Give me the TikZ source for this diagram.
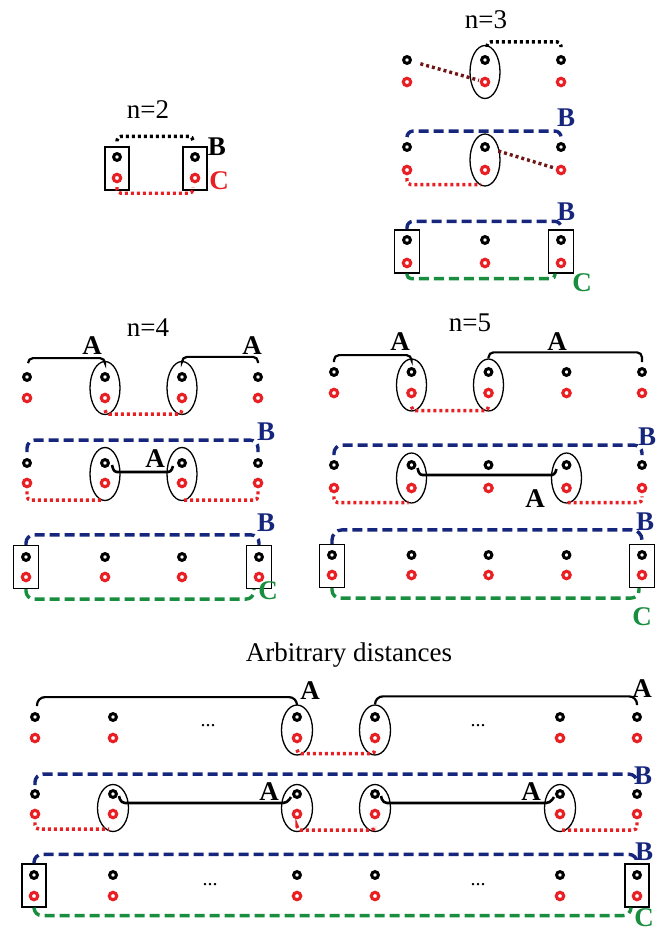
\documentclass[tikz,border=0pt]{standalone}
\usepackage{fontspec}
\setmainfont{Liberation Serif}
\usetikzlibrary{shapes.geometric,calc}
\definecolor{ringred}{RGB}{232,32,36}
\definecolor{navy}{RGB}{22,38,125}
\definecolor{grn}{RGB}{24,142,62}
\definecolor{maroon}{RGB}{112,22,22}

\tikzset{
  bring/.style={circle,draw=black,line width=3pt,minimum size=6.8pt,inner sep=0pt},
  rring/.style={circle,draw=ringred,line width=3.1pt,minimum size=7.4pt,inner sep=0pt},
  ov/.style={ellipse,draw,line width=1.3pt,inner sep=0pt,minimum width=30pt,minimum height=53pt},
  bx/.style={draw,line width=1.2pt,minimum width=25pt,minimum height=43pt,inner sep=0pt},
  dotline/.style={line width=3.4pt,dash pattern=on 3pt off 3pt,rounded corners=4pt},
  bdot/.style={dotline,black},
  rdot/.style={dotline,ringred},
  mdot/.style={dotline,maroon},
  dashline/.style={line width=3.4pt,dash pattern=on 10pt off 5pt,rounded corners=8pt},
  bdash/.style={dashline,navy},
  gdash/.style={dashline,grn},
  bracket/.style={line width=2.2pt,rounded corners=5pt},
  link/.style={line width=2.6pt,rounded corners=3pt},
  ttl/.style={font=\fontsize{27}{30}\selectfont,inner sep=0pt},
  lab/.style={font=\fontsize{27}{29}\selectfont\bfseries,inner sep=0pt},
  dotstext/.style={font=\fontsize{20}{22}\selectfont,inner sep=0pt},
}

% a black ring above a red ring, named <prefix>b and <prefix>r
\newcommand\ringpair[4]{%
  \node[bring] (#1b) at (#2,#3) {};
  \node[rring] (#1r) at (#2,#4) {};}

\begin{document}
\begin{tikzpicture}[x=1pt,y=-1pt]
\useasboundingbox (0,0) rectangle (661,933);

% ---------------- n = 2 ----------------
\node[ttl] (t2) at (148,110) {n=2};
\ringpair{n2a}{117}{157}{178}
\ringpair{n2c}{195}{157}{178}
\node[bx,minimum width=24pt] (n2x1) at (117,168.5) {};
\node[bx,minimum width=24pt] (n2x2) at (195,168.5) {};
\draw[bdot] (n2x1.north) ++(0,-5) -- ++(0,-5) -| ($(n2x2.north)+(-2,-5)$);
\draw[rdot] (n2ar.south) ++(0,4) -- ++(0,6) -| ($(n2cr.south)+(-2,4)$);
\node[lab] (n2B) at (217,147) {B};
\node[lab,text=ringred] (n2C) at (219,181) {C};

% ---------------- n = 3 ----------------
\node[ttl] (t3) at (486,20) {n=3};
% row 1
\ringpair{n3a1}{407}{60}{82}
\ringpair{n3a2}{485}{60}{82}
\ringpair{n3a3}{561}{60}{82}
\node[ov] (n3e1) at (485,72) {};
\draw[bdot] (n3e1.north) ++(2,2) -- ++(0,-5) -| ($(n3a3b.north)+(0,-8)$);
\draw[mdot,shorten <=9pt,shorten >=1pt] (n3a1b) -- (n3a2r);
% row 2
\ringpair{n3b1}{407}{147}{170}
\ringpair{n3b2}{485}{147}{170}
\ringpair{n3b3}{561}{147}{170}
\node[ov,minimum height=52pt] (n3e2) at (485,160) {};
\draw[bdash,rounded corners=6pt] (n3b1b.north) ++(0,-5) -- ++(0,-6) -| ($(n3b3b.north)+(0,-5)$);
\draw[mdot,shorten <=9pt,shorten >=2pt] (n3b2b) -- (n3b3r);
\draw[rdot] (n3b1r.south) ++(0,3) |- ($(n3e2.south)+(-4,-2)$);
\node[lab,text=navy] (n3B1) at (566,118) {B};
% row 3
\ringpair{n3c1}{407}{240}{263}
\ringpair{n3c2}{485}{240}{263}
\ringpair{n3c3}{561}{240}{263}
\node[bx] (n3x1) at (407,251.5) {};
\node[bx] (n3x3) at (561,251.5) {};
\draw[bdash,rounded corners=6pt] (n3x1.north) -- ++(0,-8) -| (n3x3.north);
\draw[gdash,rounded corners=4pt] (n3x1.south) -- ++(0,5) -| ($(n3x3.south)+(-6,0)$);
\node[lab,text=navy] (n3B2) at (566,212) {B};
\node[lab,text=grn] (n3C) at (582,283) {C};

% ---------------- n = 4 ----------------
\node[ttl] (t4) at (148,328) {n=4};
% row 1
\ringpair{n4a1}{27}{377}{398}
\ringpair{n4a2}{105}{377}{398}
\ringpair{n4a3}{182}{377}{398}
\ringpair{n4a4}{258}{377}{398}
\node[ov] (n4e12) at (105,388) {};
\node[ov] (n4e13) at (182,388) {};
\draw[bracket] (n4a1b.north) ++(1,-9) -- ++(0,-5) -| (n4e12.north);
\draw[bracket] (n4e13.north) -- ++(0,-4) -| ($(n4a4b.north)+(0,-9)$);
\draw[rdot] (n4e12.south) ++(0,-5) -- ++(0,4) -- ($(n4e13.south)+(0,-1)$) -- ++(0,-4);
\node[lab] (n4A1) at (92,346) {A};
\node[lab] (n4A2) at (252,346) {A};
% row 2
\ringpair{n4b1}{27}{463}{483}
\ringpair{n4b2}{105}{463}{483}
\ringpair{n4b3}{182}{463}{483}
\ringpair{n4b4}{258}{463}{483}
\node[ov] (n4e22) at (105,474) {};
\node[ov] (n4e23) at (182,474) {};
\draw[bdash] (n4b1b.north) ++(0,-6) -- ++(0,-12) -| ($(n4b4b.north)+(0,-6)$);
\draw[link] ($(n4b2b)+(7,2)$) -- ($(n4b2b)+(9,9)$) -- ($(n4b3b)+(-11,9)$) -- ($(n4b3b)+(-9,3)$);
\draw[rdot] (n4b1r.south) ++(0,3) |- ($(n4e22.south)+(-3,-1)$);
\draw[rdot] (n4e23.south) ++(2,-1) -| ($(n4b4r.south)+(0,3)$);
\node[lab] (n4A3) at (155,459) {A};
\node[lab,text=navy] (n4B1) at (266,432) {B};
% row 3
\ringpair{n4c1}{26}{557}{577}
\ringpair{n4c2}{105}{557}{577}
\ringpair{n4c3}{182}{557}{577}
\ringpair{n4c4}{259}{557}{577}
\node[bx] (n4x1) at (26,567) {};
\node[bx] (n4x4) at (259,567) {};
\draw[bdash] (n4x1.north) -- ++(0,-10) -| (n4x4.north);
\draw[gdash] (n4x1.south) -- ++(0,10) -| ($(n4x4.south)+(-5,0)$);
\node[lab,text=navy] (n4B2) at (266,523) {B};
\node[lab,text=grn] (n4C) at (268,591) {C};

% ---------------- n = 5 ----------------
\node[ttl] (t5) at (470,323) {n=5};
% row 1
\ringpair{n5a1}{334}{372}{393}
\ringpair{n5a2}{411.5}{372}{393}
\ringpair{n5a3}{488.5}{372}{393}
\ringpair{n5a4}{566.5}{372}{393}
\ringpair{n5a5}{642}{372}{393}
\node[ov,minimum height=52pt] (n5e12) at (411.5,385) {};
\node[ov,minimum height=52pt] (n5e13) at (488.5,385) {};
\draw[bracket] (n5a1b.north) ++(0,-5) -- ++(0,-7) -| (n5e12.north);
\draw[bracket] (n5e13.north) -- ++(0,-6) -| ($(n5a5b.north)+(0,-5)$);
\draw[rdot] (n5e12.south) ++(0,-5) -- ++(0,4) -- ($(n5e13.south)+(0,-1)$) -- ++(0,-4);
\node[lab] (n5A1) at (400,342) {A};
\node[lab] (n5A2) at (557,342) {A};
% row 2
\ringpair{n5b1}{334}{465}{488}
\ringpair{n5b2}{411.5}{465}{488}
\ringpair{n5b3}{488.5}{465}{488}
\ringpair{n5b4}{566.5}{465}{488}
\ringpair{n5b5}{642}{465}{488}
\node[ov,minimum height=50pt] (n5e22) at (411.5,478) {};
\node[ov,minimum height=50pt] (n5e24) at (566.5,478) {};
\draw[bdash] (n5b1b.north) ++(0,-5) -- ++(0,-10) -| ($(n5b5b.north)+(0,-5)$);
\draw[link] ($(n5b2b)+(6,3)$) -- ($(n5b2b)+(8,10)$) -- ($(n5b4b)+(-12,10)$) -- ($(n5b4b)+(-10,4)$);
\draw[rdot] (n5b1r.south) ++(0,3) |- ($(n5e22.south)+(-3,-1)$);
\draw[rdot] (n5e24.south) ++(1,-1) -| ($(n5b5r.south)+(0,3)$);
\node[lab] (n5A3) at (535,499) {A};
\node[lab,text=navy] (n5B1) at (647,437) {B};
% row 3
\ringpair{n5c1}{332}{555}{575}
\ringpair{n5c2}{411.5}{555}{575}
\ringpair{n5c3}{488.5}{555}{575}
\ringpair{n5c4}{566.5}{555}{575}
\ringpair{n5c5}{642}{555}{575}
\node[bx] (n5x1) at (332,566) {};
\node[bx] (n5x5) at (642,566) {};
\draw[bdash,rounded corners=10pt] (n5x1.north) -- ++(0,-14) -| (n5x5.north);
\draw[gdash] (n5x1.south) -- ++(0,10) -| ($(n5x5.south)+(-3,0)$);
\node[lab,text=navy] (n5B2) at (645,522) {B};
\node[lab,text=grn] (n5C) at (642,617) {C};

% ---------------- arbitrary distances ----------------
\node[ttl] (tg) at (349,655) {Arbitrary distances};
% row 1
\ringpair{g1c1}{35}{717}{738}
\ringpair{g1c2}{113}{717}{738}
\ringpair{g1c3}{297}{717}{738}
\ringpair{g1c4}{375}{717}{738}
\ringpair{g1c5}{560}{717}{738}
\ringpair{g1c6}{637}{717}{738}
\node[ov,minimum width=31pt,minimum height=50pt] (ge13) at (297,730) {};
\node[ov,minimum width=31pt,minimum height=50pt] (ge14) at (375,730) {};
\draw[bracket,rounded corners=8pt] (g1c1b.north) ++(2,-6) -- ++(0,-9) -| (ge13.north);
\draw[bracket,rounded corners=8pt] (ge14.north) -- ++(0,-8) -| ($(g1c6b.north)+(0,-7)$);
\draw[rdot] (ge13.south) ++(0,-6) -- ++(0,4) -- ($(ge14.south)+(0,-2)$) -- ++(0,-4);
\node[dotstext] (gd1) at (208,726) {...};
\node[dotstext] (gd2) at (478,726) {...};
\node[lab] (gA1) at (310,691) {A};
\node[lab] (gA2) at (642,689) {A};
% row 2
\ringpair{g2c1}{35}{794}{814}
\ringpair{g2c2}{113}{794}{814}
\ringpair{g2c3}{297}{794}{814}
\ringpair{g2c4}{375}{794}{814}
\ringpair{g2c5}{560}{794}{814}
\ringpair{g2c6}{637}{794}{814}
\node[ov,minimum width=31pt,minimum height=47pt] (ge22) at (113,808) {};
\node[ov,minimum width=31pt,minimum height=47pt] (ge23) at (297,808) {};
\node[ov,minimum width=31pt,minimum height=47pt] (ge24) at (375,808) {};
\node[ov,minimum width=31pt,minimum height=47pt] (ge25) at (560,808) {};
\draw[bdash] (g2c1b.north) ++(0,-4) -- ++(0,-11) -| ($(g2c6b.north)+(0,-6)$);
\draw[link,rounded corners=4pt] ($(g2c2b)+(6,2)$) -- ($(g2c2b)+(8,9)$) -- ($(g2c3b)+(-10,9)$) -- ($(g2c3b)+(-6,3)$);
\draw[link,rounded corners=4pt] ($(g2c4b)+(6,2)$) -- ($(g2c4b)+(8,9)$) -- ($(g2c5b)+(-10,9)$) -- ($(g2c5b)+(-6,3)$);
\draw[rdot] (g2c1r.south) ++(0,3) |- ($(ge22.south)+(-4,-3)$);
\draw[rdot] (ge23.south) ++(0,-5) -- ++(0,3) -- ($(ge24.south)+(0,-2)$) -- ++(0,-3);
\draw[rdot] (ge25.south) ++(2,-2) -| ($(g2c6r.south)+(0,3)$);
\node[lab] (gA3) at (269,792) {A};
\node[lab] (gA4) at (531,792) {A};
\node[lab,text=navy] (gB1) at (643,776) {B};
% row 3
\ringpair{g3c1}{34}{875}{896}
\ringpair{g3c2}{113}{875}{896}
\ringpair{g3c3}{297}{875}{896}
\ringpair{g3c4}{375}{875}{896}
\ringpair{g3c5}{560}{875}{896}
\ringpair{g3c6}{637}{875}{896}
\node[bx,minimum width=24pt] (gx1) at (34,885.5) {};
\node[bx,minimum width=24pt] (gx6) at (637,885.5) {};
\draw[bdash] (gx1.north) -- ++(0,-9) -| (gx6.north);
\draw[gdash] (gx1.south) -- ++(0,8) -| ($(gx6.south)+(-6,0)$);
\node[dotstext] (gd3) at (210,885) {...};
\node[dotstext] (gd4) at (478,885) {...};
\node[lab,text=navy] (gB2) at (644,852) {B};
\node[lab,text=grn] (gC) at (644,918) {C};
\end{tikzpicture}
\end{document}
